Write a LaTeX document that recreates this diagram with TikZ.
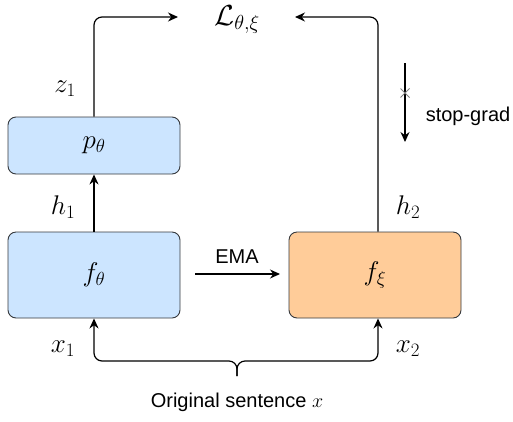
\documentclass[tikz,border=0pt]{standalone}
\usepackage{fix-cm}
\usepackage{fontspec}
\setsansfont{Liberation Sans}
\usetikzlibrary{arrows.meta}
\definecolor{bluefill}{HTML}{CCE5FF}
\definecolor{orangefill}{HTML}{FFCC99}
\definecolor{boxline}{HTML}{36393D}
\tikzset{
  x=1pt, y=1pt,
  blk/.style={draw=boxline, line width=0.9pt, rounded corners=8pt, minimum width=172pt, inner sep=0pt},
  arr/.style={line width=1.2pt, -{Stealth[length=10pt, width=9pt]}},
  lab/.style={font=\fontsize{27}{31}\selectfont},
  sans/.style={font=\sffamily\fontsize{20}{24}\selectfont},
}
\begin{document}
\begin{tikzpicture}
\useasboundingbox (0,0) rectangle (513,-421);
\node[blk, fill=bluefill, minimum height=57pt, lab] (ptheta) at (94,-145.5) {$p_\theta$};
\node[blk, fill=bluefill, minimum height=86pt, lab] (ftheta) at (94,-275) {$f_\theta$};
\node[blk, fill=orangefill, minimum height=86pt, lab] (fxi) at (375,-275) {$f_\xi$};
\node[font=\fontsize{29}{33}\selectfont, anchor=base, inner sep=0pt] (L) at (237,-25) {$\mathcal{L}_{\theta,\xi}$};
\coordinate (Lin1) at (178,-17);
\coordinate (Lin2) at (295,-17);
\draw[arr, rounded corners=8pt] (ptheta.north) |- (Lin1);
\draw[arr, rounded corners=8pt] (fxi.north -| 378,0) |- (Lin2);
\draw[arr] (ftheta.north) -- (ptheta.south);
\node[lab] (z1) at (65,-89) {$z_1$};
\node[lab] (h1) at (63,-207) {$h_1$};
\node[lab] (h2) at (408,-207) {$h_2$};
\node[lab] (x1) at (63,-349) {$x_1$};
\node[lab] (x2) at (408,-349) {$x_2$};
% EMA
\coordinate (ema1) at (195,-274);
\coordinate (ema2) at (280,-274);
\draw[arr] (ema1) -- (ema2);
\node[sans, anchor=base] (ema) at (237,-263) {EMA};
% stop-grad
\coordinate (sg1) at (405,-63);
\coordinate (sg2) at (405,-142);
\draw[arr] (sg1) -- (sg2);
\node[sans] (sg) at (468,-116) {stop-grad};
\draw[gray, line width=0.9pt] (400.5,-88.5) -- (409.5,-97.5) (400.5,-97.5) -- (409.5,-88.5);
% brace
\coordinate (brace) at (237,-376);
\draw[arr, rounded corners=8pt] (brace) -- (237,-361) -- (94,-361) -- (ftheta.south);
\draw[arr, rounded corners=8pt] (brace) -- (237,-361) -- (378,-361) -- (fxi.south -| 378,0);
\node[sans, anchor=base] (orig) at (237,-407) {Original sentence $x$};
\end{tikzpicture}
\end{document}
